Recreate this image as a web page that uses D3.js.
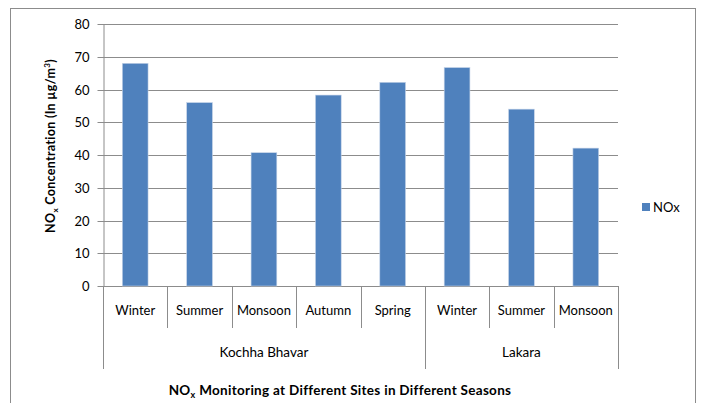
<!DOCTYPE html>
<html><head><meta charset="utf-8">
<script src="https://cdn.jsdelivr.net/npm/d3@7"></script>
<style>
html,body{margin:0;padding:0;background:#fff;}
svg{display:block;}
text{font-family:Lato,"Open Sans",sans-serif;fill:#000;}
</style></head>
<body>
<script>
const sites = ["Kochha Bhavar","Kochha Bhavar","Kochha Bhavar","Kochha Bhavar","Kochha Bhavar","Lakara","Lakara","Lakara"];
const seasons = ["Winter","Summer","Monsoon","Autumn","Spring","Winter","Summer","Monsoon"];
const values = [68.0,56.0,40.7,58.3,62.2,66.7,54.0,42.1];
const yTicks = [0,10,20,30,40,50,60,70,80];
const seriesName = "NOx";

const W=703,H=403;
const svg=d3.select("body").append("svg").attr("width",W).attr("height",H);
const L=103,R=618,T=24,B=286;
const keys=values.map((v,i)=>i);
const x=d3.scaleBand().domain(keys).range([L,R]).paddingInner(0.6).paddingOuter(0.3);
const xb=d3.scaleBand().domain(keys).range([L,R]);
const y=d3.scaleLinear().domain([0,80]).range([B,T]);

// outer border
svg.append("rect").attr("x",10.5).attr("y",8.5).attr("width",685).attr("height",420)
  .attr("fill","none").attr("stroke","#8c8c8c").attr("stroke-width",1);

// gridlines
svg.append("g").selectAll("line").data(yTicks).join("line")
  .attr("x1",L).attr("x2",R).attr("y1",d=>Math.round(y(d))+0.5).attr("y2",d=>Math.round(y(d))+0.5)
  .attr("stroke","#8c8c8c").attr("stroke-width",1);

// y axis
const ya=svg.append("g").attr("transform",`translate(${L+0.5},0)`)
  .call(d3.axisLeft(y).tickValues(yTicks).tickSize(6).tickSizeOuter(0).tickPadding(8));
ya.select(".domain").attr("stroke","#8c8c8c");
ya.selectAll(".tick line").attr("stroke","#8c8c8c");
ya.selectAll(".tick text").attr("font-size",13).attr("font-family","Lato,sans-serif").attr("fill","#000");
ya.selectAll(".tick").attr("transform",d=>`translate(0,${Math.round(y(d))+0.5})`);

// bars
svg.append("g").selectAll("rect").data(values).join("rect")
  .attr("x",(d,i)=>x(i)).attr("width",x.bandwidth())
  .attr("y",d=>y(d)).attr("height",d=>B-y(d))
  .attr("fill","#4f81bd").attr("stroke","#c6d4e8").attr("stroke-width",0.6);

// x separators
const groupStarts=new Set([0]);
sites.forEach((s,i)=>{if(i>0&&sites[i-1]!==s)groupStarts.add(i);});
const seps=d3.range(values.length+1);
svg.append("g").selectAll("line").data(seps).join("line")
  .attr("x1",i=>Math.round(i<values.length?xb(i):R)+0.5)
  .attr("x2",i=>Math.round(i<values.length?xb(i):R)+0.5)
  .attr("y1",B).attr("y2",i=>(groupStarts.has(i)||i===values.length)?369:328)
  .attr("stroke","#8c8c8c");

// category labels
svg.append("g").selectAll("text").data(seasons).join("text")
  .attr("x",(d,i)=>xb(i)+xb.bandwidth()/2).attr("y",315)
  .attr("text-anchor","middle").attr("font-size",13).text(d=>d);

// group labels
const groups=d3.groups(sites.map((s,i)=>({s,i})),d=>d.s);
svg.append("g").selectAll("text").data(groups).join("text")
  .attr("x",g=>{const a=g[1][0].i,b=g[1][g[1].length-1].i;return (xb(a)+xb(b)+xb.bandwidth())/2;})
  .attr("y",357).attr("text-anchor","middle").attr("font-size",13.5).text(g=>g[0]);

// x title
const xt=svg.append("text").attr("x",340).attr("y",395).attr("text-anchor","middle")
  .attr("font-size",13.5).attr("font-weight","bold").attr("letter-spacing",0.3);
xt.append("tspan").text("NO");
xt.append("tspan").attr("font-size",9).attr("dy",3).text("x");
xt.append("tspan").attr("dy",-3).text(" Monitoring at Different Sites in Different Seasons");

// y title
const yt=svg.append("text").attr("transform","translate(55,146) rotate(-90)").attr("text-anchor","middle")
  .attr("font-size",12.5).attr("font-weight","bold").attr("letter-spacing",0.3);
yt.append("tspan").text("NO");
yt.append("tspan").attr("font-size",8).attr("dy",3).text("x");
yt.append("tspan").attr("dy",-3).text(" Concentration (In µg/m");
yt.append("tspan").attr("font-size",8).attr("dy",-5).text("3");
yt.append("tspan").attr("dy",5).text(")");

// legend
svg.append("rect").attr("x",642).attr("y",203).attr("width",8).attr("height",8).attr("fill","#4f81bd");
svg.append("text").attr("x",653).attr("y",212).attr("font-size",13).text(seriesName);
</script>
</body></html>
